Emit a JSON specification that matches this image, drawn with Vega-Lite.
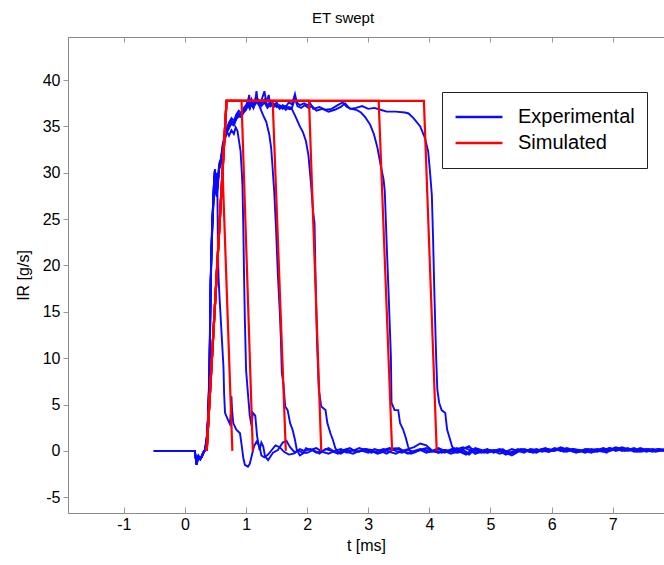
{
"$schema": "https://vega.github.io/schema/vega-lite/v6.json",
"autosize": "none",
"width": 596, "height": 476,
"padding": {"left": 68, "top": 37, "right": 0, "bottom": 52},
"background": "white",
"title": {"text": "ET swept", "fontSize": 15, "font": "Liberation Sans", "fontWeight": "normal", "color": "black", "dx": -23, "offset": 11},
"config": {
  "view": {"stroke": "#8a8a8a", "strokeWidth": 1},
  "axis": {"grid": false, "domainColor": "#8a8a8a", "tickColor": "#9a9a9a", "labelFont": "Liberation Sans", "titleFont": "Liberation Sans", "labelFontSize": 16, "titleFontSize": 16, "titleFontWeight": "normal", "labelColor": "black", "titleColor": "black"}
},
"datasets": {
"exp": [
{"s":"e1","t":-0.51,"v":0},{"s":"e1","t":0.16,"v":0},{"s":"e1","t":0.19,"v":-1.5},{"s":"e1","t":0.21,"v":-0.8},{"s":"e1","t":0.22,"v":-0.6},{"s":"e1","t":0.25,"v":-0.9},{"s":"e1","t":0.27,"v":-0.7},{"s":"e1","t":0.30,"v":-0.2},{"s":"e1","t":0.33,"v":0.1},{"s":"e1","t":0.36,"v":1.5},{"s":"e1","t":0.38,"v":3.7},{"s":"e1","t":0.40,"v":8},{"s":"e1","t":0.41,"v":13},{"s":"e1","t":0.42,"v":18},{"s":"e1","t":0.435,"v":22},{"s":"e1","t":0.45,"v":25},{"s":"e1","t":0.465,"v":27},{"s":"e1","t":0.475,"v":29},{"s":"e1","t":0.485,"v":30.2},{"s":"e1","t":0.50,"v":28.6},{"s":"e1","t":0.51,"v":29.4},{"s":"e1","t":0.52,"v":30},{"s":"e1","t":0.53,"v":28.4},{"s":"e1","t":0.535,"v":25},{"s":"e1","t":0.54,"v":21},{"s":"e1","t":0.55,"v":18.5},{"s":"e1","t":0.57,"v":16},{"s":"e1","t":0.60,"v":12.5},{"s":"e1","t":0.63,"v":9},{"s":"e1","t":0.64,"v":6.2},{"s":"e1","t":0.655,"v":4.1},{"s":"e1","t":0.70,"v":3.4},{"s":"e1","t":0.735,"v":2.9},{"s":"e1","t":0.75,"v":4.2},{"s":"e1","t":0.76,"v":5.9},{"s":"e1","t":0.77,"v":4.4},{"s":"e1","t":0.79,"v":3.0},{"s":"e1","t":0.84,"v":2.3},{"s":"e1","t":0.90,"v":1.9},{"s":"e1","t":0.93,"v":0.5},{"s":"e1","t":0.955,"v":-0.8},{"s":"e1","t":0.98,"v":-1.5},{"s":"e1","t":1.03,"v":-1.7},{"s":"e1","t":1.06,"v":-1.4},{"s":"e1","t":1.10,"v":-0.3},{"s":"e1","t":1.13,"v":0.5},{"s":"e1","t":1.17,"v":1.0},{"s":"e1","t":1.22,"v":0.5},{"s":"e1","t":1.25,"v":-0.5},{"s":"e1","t":1.30,"v":-0.7},{"s":"e1","t":1.36,"v":-0.4},{"s":"e1","t":1.42,"v":0.1},{"s":"e1","t":1.48,"v":0.6},{"s":"e1","t":1.55,"v":0.4},{"s":"e1","t":1.62,"v":-0.1},{"s":"e1","t":1.70,"v":-0.4},{"s":"e1","t":1.78,"v":-0.3},{"s":"e1","t":1.85,"v":0.1},{"s":"e1","t":1.92,"v":-0.2},
{"s":"e1","t":2.0,"v":-0.2},{"s":"e1","t":2.1,"v":0.1},{"s":"e1","t":2.2,"v":-0.3},{"s":"e1","t":2.3,"v":0.2},{"s":"e1","t":2.4,"v":0.0},{"s":"e1","t":2.5,"v":-0.3},{"s":"e1","t":2.6,"v":0.1},{"s":"e1","t":2.7,"v":0.3},{"s":"e1","t":2.8,"v":-0.1},{"s":"e1","t":2.9,"v":0.0},{"s":"e1","t":3.0,"v":-0.2},{"s":"e1","t":3.1,"v":0.2},{"s":"e1","t":3.2,"v":0.0},{"s":"e1","t":3.3,"v":-0.3},{"s":"e1","t":3.4,"v":0.1},{"s":"e1","t":3.5,"v":0.3},{"s":"e1","t":3.6,"v":-0.1},{"s":"e1","t":3.7,"v":-0.3},{"s":"e1","t":3.8,"v":0.0},{"s":"e1","t":3.9,"v":0.2},{"s":"e1","t":4.0,"v":-0.1},{"s":"e1","t":4.1,"v":0.1},{"s":"e1","t":4.2,"v":-0.2},{"s":"e1","t":4.3,"v":0.0},{"s":"e1","t":4.4,"v":0.3},{"s":"e1","t":4.5,"v":-0.1},{"s":"e1","t":4.6,"v":-0.4},{"s":"e1","t":4.7,"v":0.2},{"s":"e1","t":4.8,"v":0.0},{"s":"e1","t":4.9,"v":-0.2},{"s":"e1","t":5.0,"v":0.1},{"s":"e1","t":5.1,"v":-0.1},{"s":"e1","t":5.2,"v":0.2},{"s":"e1","t":5.3,"v":-0.3},{"s":"e1","t":5.4,"v":-0.1},{"s":"e1","t":5.5,"v":0.2},{"s":"e1","t":5.6,"v":0.0},{"s":"e1","t":5.7,"v":-0.2},{"s":"e1","t":5.8,"v":0.1},{"s":"e1","t":5.9,"v":0.3},{"s":"e1","t":6.0,"v":0.0},{"s":"e1","t":6.1,"v":0.2},{"s":"e1","t":6.2,"v":-0.1},{"s":"e1","t":6.3,"v":0.1},{"s":"e1","t":6.4,"v":-0.2},{"s":"e1","t":6.5,"v":0.0},{"s":"e1","t":6.6,"v":0.2},{"s":"e1","t":6.7,"v":-0.1},{"s":"e1","t":6.8,"v":0.1},{"s":"e1","t":6.9,"v":-0.2},{"s":"e1","t":7.0,"v":0.2},{"s":"e1","t":7.1,"v":0.3},{"s":"e1","t":7.2,"v":0.0},{"s":"e1","t":7.3,"v":0.2},{"s":"e1","t":7.4,"v":-0.1},{"s":"e1","t":7.5,"v":0.1},{"s":"e1","t":7.6,"v":0.2},{"s":"e1","t":7.7,"v":-0.1},{"s":"e1","t":7.85,"v":0.1},

{"s":"e2","t":-0.51,"v":0},{"s":"e2","t":0.16,"v":0},{"s":"e2","t":0.19,"v":-1.4},{"s":"e2","t":0.21,"v":-0.7},{"s":"e2","t":0.22,"v":-0.6},{"s":"e2","t":0.25,"v":-0.8},{"s":"e2","t":0.27,"v":-0.6},{"s":"e2","t":0.30,"v":-0.1},{"s":"e2","t":0.33,"v":0.2},{"s":"e2","t":0.36,"v":1.8},{"s":"e2","t":0.38,"v":4.2},{"s":"e2","t":0.40,"v":9},{"s":"e2","t":0.41,"v":14},{"s":"e2","t":0.42,"v":18.5},{"s":"e2","t":0.435,"v":22.5},{"s":"e2","t":0.45,"v":25.5},{"s":"e2","t":0.465,"v":27.2},{"s":"e2","t":0.475,"v":28.8},{"s":"e2","t":0.49,"v":29.8},{"s":"e2","t":0.50,"v":28},{"s":"e2","t":0.52,"v":27.6},{"s":"e2","t":0.54,"v":29},{"s":"e2","t":0.56,"v":30.5},{"s":"e2","t":0.59,"v":31.2},{"s":"e2","t":0.61,"v":32.3},{"s":"e2","t":0.65,"v":33.6},{"s":"e2","t":0.68,"v":34.5},{"s":"e2","t":0.72,"v":34.0},{"s":"e2","t":0.76,"v":34.6},{"s":"e2","t":0.80,"v":34.2},{"s":"e2","t":0.83,"v":34.9},{"s":"e2","t":0.86,"v":34.5},{"s":"e2","t":0.88,"v":33.6},{"s":"e2","t":0.91,"v":32.3},{"s":"e2","t":0.93,"v":30},{"s":"e2","t":0.94,"v":28.7},{"s":"e2","t":0.955,"v":24},{"s":"e2","t":0.965,"v":19.5},{"s":"e2","t":0.98,"v":14.1},{"s":"e2","t":1.0,"v":8.7},{"s":"e2","t":1.03,"v":6.2},{"s":"e2","t":1.06,"v":3.8},{"s":"e2","t":1.09,"v":2.7},{"s":"e2","t":1.11,"v":4.1},{"s":"e2","t":1.15,"v":3.8},{"s":"e2","t":1.18,"v":1.6},{"s":"e2","t":1.22,"v":0.1},{"s":"e2","t":1.25,"v":0.9},{"s":"e2","t":1.28,"v":0.5},{"s":"e2","t":1.31,"v":-0.6},{"s":"e2","t":1.36,"v":-1.0},{"s":"e2","t":1.44,"v":-0.2},{"s":"e2","t":1.52,"v":0.1},{"s":"e2","t":1.6,"v":0.9},{"s":"e2","t":1.66,"v":1.1},{"s":"e2","t":1.72,"v":0.4},{"s":"e2","t":1.8,"v":-0.2},{"s":"e2","t":1.88,"v":0.2},{"s":"e2","t":1.95,"v":0.0},
{"s":"e2","t":2.05,"v":0.2},{"s":"e2","t":2.15,"v":-0.2},{"s":"e2","t":2.25,"v":0.0},{"s":"e2","t":2.35,"v":0.3},{"s":"e2","t":2.45,"v":-0.1},{"s":"e2","t":2.55,"v":-0.3},{"s":"e2","t":2.65,"v":0.1},{"s":"e2","t":2.75,"v":0.0},{"s":"e2","t":2.85,"v":0.3},{"s":"e2","t":2.95,"v":0.1},{"s":"e2","t":3.05,"v":-0.2},{"s":"e2","t":3.15,"v":0.0},{"s":"e2","t":3.25,"v":0.2},{"s":"e2","t":3.35,"v":-0.1},{"s":"e2","t":3.45,"v":-0.3},{"s":"e2","t":3.55,"v":0.0},{"s":"e2","t":3.65,"v":0.2},{"s":"e2","t":3.75,"v":0.4},{"s":"e2","t":3.85,"v":0.8},{"s":"e2","t":3.95,"v":0.6},{"s":"e2","t":4.05,"v":0.0},{"s":"e2","t":4.15,"v":-0.2},{"s":"e2","t":4.25,"v":0.1},{"s":"e2","t":4.35,"v":-0.1},{"s":"e2","t":4.45,"v":0.2},{"s":"e2","t":4.55,"v":0.4},{"s":"e2","t":4.65,"v":0.1},{"s":"e2","t":4.75,"v":-0.3},{"s":"e2","t":4.85,"v":0.0},{"s":"e2","t":4.95,"v":0.2},{"s":"e2","t":5.05,"v":-0.2},{"s":"e2","t":5.15,"v":0.0},{"s":"e2","t":5.25,"v":-0.4},{"s":"e2","t":5.35,"v":-0.1},{"s":"e2","t":5.45,"v":0.2},{"s":"e2","t":5.55,"v":0.0},{"s":"e2","t":5.65,"v":0.1},{"s":"e2","t":5.75,"v":-0.1},{"s":"e2","t":5.85,"v":0.2},{"s":"e2","t":5.95,"v":0.0},{"s":"e2","t":6.05,"v":0.3},{"s":"e2","t":6.15,"v":0.1},{"s":"e2","t":6.25,"v":-0.1},{"s":"e2","t":6.35,"v":0.2},{"s":"e2","t":6.45,"v":0.0},{"s":"e2","t":6.55,"v":-0.2},{"s":"e2","t":6.65,"v":0.1},{"s":"e2","t":6.75,"v":0.2},{"s":"e2","t":6.85,"v":0.0},{"s":"e2","t":6.95,"v":0.3},{"s":"e2","t":7.05,"v":0.1},{"s":"e2","t":7.15,"v":0.4},{"s":"e2","t":7.25,"v":0.2},{"s":"e2","t":7.35,"v":0.0},{"s":"e2","t":7.45,"v":0.2},{"s":"e2","t":7.55,"v":-0.1},{"s":"e2","t":7.65,"v":0.1},{"s":"e2","t":7.75,"v":0.0},{"s":"e2","t":7.85,"v":0.1},

{"s":"e3","t":-0.51,"v":0},{"s":"e3","t":0.16,"v":0},{"s":"e3","t":0.19,"v":-1.5},{"s":"e3","t":0.21,"v":-0.8},{"s":"e3","t":0.22,"v":-0.6},{"s":"e3","t":0.25,"v":-0.9},{"s":"e3","t":0.27,"v":-0.7},{"s":"e3","t":0.30,"v":-0.2},{"s":"e3","t":0.33,"v":0.1},{"s":"e3","t":0.36,"v":1.3},{"s":"e3","t":0.38,"v":3.4},{"s":"e3","t":0.40,"v":7.5},{"s":"e3","t":0.41,"v":12.5},{"s":"e3","t":0.42,"v":17.5},{"s":"e3","t":0.435,"v":21.5},{"s":"e3","t":0.45,"v":24.6},{"s":"e3","t":0.465,"v":26.8},{"s":"e3","t":0.475,"v":29.2},{"s":"e3","t":0.49,"v":30.1},{"s":"e3","t":0.50,"v":28.3},{"s":"e3","t":0.52,"v":27.8},{"s":"e3","t":0.54,"v":29.2},{"s":"e3","t":0.56,"v":30.8},{"s":"e3","t":0.59,"v":31.4},{"s":"e3","t":0.61,"v":32.5},{"s":"e3","t":0.65,"v":33.9},{"s":"e3","t":0.68,"v":34.6},{"s":"e3","t":0.72,"v":35.1},{"s":"e3","t":0.76,"v":35.6},{"s":"e3","t":0.80,"v":35.4},{"s":"e3","t":0.84,"v":36.0},{"s":"e3","t":0.88,"v":36.4},{"s":"e3","t":0.92,"v":36.2},{"s":"e3","t":0.96,"v":36.8},{"s":"e3","t":1.0,"v":37.0},{"s":"e3","t":1.03,"v":37.6},{"s":"e3","t":1.05,"v":38.4},{"s":"e3","t":1.07,"v":37.4},{"s":"e3","t":1.09,"v":37.9},{"s":"e3","t":1.12,"v":37.3},{"s":"e3","t":1.15,"v":37.7},{"s":"e3","t":1.17,"v":38.8},{"s":"e3","t":1.19,"v":37.6},{"s":"e3","t":1.23,"v":37.0},{"s":"e3","t":1.28,"v":36.2},{"s":"e3","t":1.33,"v":35.5},{"s":"e3","t":1.38,"v":34.1},{"s":"e3","t":1.41,"v":32.7},{"s":"e3","t":1.43,"v":30.9},{"s":"e3","t":1.46,"v":28},{"s":"e3","t":1.49,"v":24},{"s":"e3","t":1.52,"v":19},{"s":"e3","t":1.55,"v":15.2},{"s":"e3","t":1.57,"v":12},{"s":"e3","t":1.585,"v":8.4},{"s":"e3","t":1.61,"v":7.3},{"s":"e3","t":1.64,"v":4.8},{"s":"e3","t":1.68,"v":4.4},{"s":"e3","t":1.72,"v":3.0},{"s":"e3","t":1.76,"v":2.3},{"s":"e3","t":1.80,"v":1.2},{"s":"e3","t":1.83,"v":0.1},{"s":"e3","t":1.88,"v":-0.5},{"s":"e3","t":1.93,"v":-0.3},{"s":"e3","t":1.98,"v":0.3},
{"s":"e3","t":2.05,"v":0.1},{"s":"e3","t":2.15,"v":0.3},{"s":"e3","t":2.25,"v":-0.1},{"s":"e3","t":2.35,"v":-0.3},{"s":"e3","t":2.45,"v":0.0},{"s":"e3","t":2.55,"v":0.2},{"s":"e3","t":2.65,"v":-0.1},{"s":"e3","t":2.75,"v":-0.3},{"s":"e3","t":2.85,"v":0.0},{"s":"e3","t":2.95,"v":0.2},{"s":"e3","t":3.05,"v":0.1},{"s":"e3","t":3.15,"v":-0.2},{"s":"e3","t":3.25,"v":0.1},{"s":"e3","t":3.35,"v":0.3},{"s":"e3","t":3.45,"v":0.0},{"s":"e3","t":3.55,"v":-0.2},{"s":"e3","t":3.65,"v":0.1},{"s":"e3","t":3.75,"v":-0.1},{"s":"e3","t":3.85,"v":0.1},{"s":"e3","t":3.95,"v":-0.2},{"s":"e3","t":4.05,"v":0.0},{"s":"e3","t":4.15,"v":0.3},{"s":"e3","t":4.25,"v":0.0},{"s":"e3","t":4.35,"v":-0.3},{"s":"e3","t":4.45,"v":-0.1},{"s":"e3","t":4.55,"v":0.3},{"s":"e3","t":4.65,"v":0.4},{"s":"e3","t":4.75,"v":0.0},{"s":"e3","t":4.85,"v":-0.2},{"s":"e3","t":4.95,"v":0.1},{"s":"e3","t":5.05,"v":0.0},{"s":"e3","t":5.15,"v":-0.3},{"s":"e3","t":5.25,"v":-0.1},{"s":"e3","t":5.35,"v":0.2},{"s":"e3","t":5.45,"v":0.0},{"s":"e3","t":5.55,"v":-0.2},{"s":"e3","t":5.65,"v":0.2},{"s":"e3","t":5.75,"v":0.1},{"s":"e3","t":5.85,"v":-0.1},{"s":"e3","t":5.95,"v":0.2},{"s":"e3","t":6.05,"v":0.0},{"s":"e3","t":6.15,"v":0.3},{"s":"e3","t":6.25,"v":0.2},{"s":"e3","t":6.35,"v":-0.1},{"s":"e3","t":6.45,"v":0.1},{"s":"e3","t":6.55,"v":0.0},{"s":"e3","t":6.65,"v":-0.2},{"s":"e3","t":6.75,"v":0.1},{"s":"e3","t":6.85,"v":0.3},{"s":"e3","t":6.95,"v":0.0},{"s":"e3","t":7.05,"v":0.2},{"s":"e3","t":7.15,"v":0.1},{"s":"e3","t":7.25,"v":0.3},{"s":"e3","t":7.35,"v":-0.1},{"s":"e3","t":7.45,"v":0.0},{"s":"e3","t":7.55,"v":0.2},{"s":"e3","t":7.65,"v":0.0},{"s":"e3","t":7.75,"v":0.2},{"s":"e3","t":7.85,"v":0.0},

{"s":"e4","t":-0.51,"v":0},{"s":"e4","t":0.16,"v":0},{"s":"e4","t":0.19,"v":-1.4},{"s":"e4","t":0.21,"v":-0.8},{"s":"e4","t":0.22,"v":-0.5},{"s":"e4","t":0.25,"v":-0.8},{"s":"e4","t":0.27,"v":-0.7},{"s":"e4","t":0.30,"v":-0.2},{"s":"e4","t":0.33,"v":0.1},{"s":"e4","t":0.36,"v":1.6},{"s":"e4","t":0.38,"v":3.9},{"s":"e4","t":0.40,"v":8.5},{"s":"e4","t":0.41,"v":13.5},{"s":"e4","t":0.42,"v":18.2},{"s":"e4","t":0.435,"v":22.2},{"s":"e4","t":0.45,"v":25.2},{"s":"e4","t":0.465,"v":27.5},{"s":"e4","t":0.475,"v":29.0},{"s":"e4","t":0.49,"v":30.4},{"s":"e4","t":0.50,"v":28.6},{"s":"e4","t":0.52,"v":28.0},{"s":"e4","t":0.54,"v":29.5},{"s":"e4","t":0.56,"v":31.0},{"s":"e4","t":0.59,"v":31.6},{"s":"e4","t":0.61,"v":32.8},{"s":"e4","t":0.65,"v":34.1},{"s":"e4","t":0.68,"v":34.8},{"s":"e4","t":0.72,"v":35.4},{"s":"e4","t":0.76,"v":35.9},{"s":"e4","t":0.80,"v":35.6},{"s":"e4","t":0.84,"v":36.3},{"s":"e4","t":0.88,"v":36.7},{"s":"e4","t":0.92,"v":36.4},{"s":"e4","t":0.96,"v":37.0},{"s":"e4","t":1.0,"v":37.3},{"s":"e4","t":1.03,"v":37.8},{"s":"e4","t":1.06,"v":37.2},{"s":"e4","t":1.09,"v":37.7},{"s":"e4","t":1.12,"v":37.0},{"s":"e4","t":1.15,"v":37.9},{"s":"e4","t":1.2,"v":37.4},{"s":"e4","t":1.25,"v":37.8},{"s":"e4","t":1.30,"v":38.8},{"s":"e4","t":1.33,"v":37.6},{"s":"e4","t":1.37,"v":38.4},{"s":"e4","t":1.40,"v":37.2},{"s":"e4","t":1.45,"v":37.5},{"s":"e4","t":1.50,"v":37.1},{"s":"e4","t":1.55,"v":37.3},{"s":"e4","t":1.60,"v":36.9},{"s":"e4","t":1.65,"v":37.2},{"s":"e4","t":1.70,"v":36.9},{"s":"e4","t":1.74,"v":37.0},{"s":"e4","t":1.77,"v":36.6},{"s":"e4","t":1.82,"v":35.9},{"s":"e4","t":1.88,"v":35.0},{"s":"e4","t":1.93,"v":34.4},{"s":"e4","t":1.98,"v":33.4},{"s":"e4","t":2.02,"v":31.9},{"s":"e4","t":2.06,"v":29},{"s":"e4","t":2.10,"v":25.6},{"s":"e4","t":2.12,"v":24.6},{"s":"e4","t":2.135,"v":19.2},{"s":"e4","t":2.16,"v":12},{"s":"e4","t":2.19,"v":6.6},{"s":"e4","t":2.23,"v":4.8},{"s":"e4","t":2.30,"v":4.4},{"s":"e4","t":2.33,"v":3.0},{"s":"e4","t":2.38,"v":1.9},{"s":"e4","t":2.42,"v":1.2},{"s":"e4","t":2.46,"v":0.3},{"s":"e4","t":2.51,"v":-0.2},{"s":"e4","t":2.56,"v":0.1},
{"s":"e4","t":2.65,"v":-0.2},{"s":"e4","t":2.75,"v":0.1},{"s":"e4","t":2.85,"v":-0.1},{"s":"e4","t":2.95,"v":0.2},{"s":"e4","t":3.05,"v":0.0},{"s":"e4","t":3.15,"v":-0.3},{"s":"e4","t":3.25,"v":-0.1},{"s":"e4","t":3.35,"v":0.2},{"s":"e4","t":3.45,"v":0.3},{"s":"e4","t":3.55,"v":0.0},{"s":"e4","t":3.65,"v":-0.3},{"s":"e4","t":3.75,"v":0.0},{"s":"e4","t":3.85,"v":0.2},{"s":"e4","t":3.95,"v":0.0},{"s":"e4","t":4.05,"v":-0.1},{"s":"e4","t":4.15,"v":0.2},{"s":"e4","t":4.25,"v":-0.2},{"s":"e4","t":4.35,"v":0.1},{"s":"e4","t":4.45,"v":0.3},{"s":"e4","t":4.55,"v":-0.1},{"s":"e4","t":4.65,"v":-0.4},{"s":"e4","t":4.75,"v":0.2},{"s":"e4","t":4.85,"v":0.0},{"s":"e4","t":4.95,"v":-0.2},{"s":"e4","t":5.05,"v":0.1},{"s":"e4","t":5.15,"v":0.0},{"s":"e4","t":5.25,"v":-0.2},{"s":"e4","t":5.35,"v":-0.5},{"s":"e4","t":5.45,"v":-0.1},{"s":"e4","t":5.55,"v":0.1},{"s":"e4","t":5.65,"v":-0.1},{"s":"e4","t":5.75,"v":0.0},{"s":"e4","t":5.85,"v":0.2},{"s":"e4","t":5.95,"v":-0.1},{"s":"e4","t":6.05,"v":0.1},{"s":"e4","t":6.15,"v":0.4},{"s":"e4","t":6.25,"v":0.1},{"s":"e4","t":6.35,"v":0.0},{"s":"e4","t":6.45,"v":-0.1},{"s":"e4","t":6.55,"v":0.1},{"s":"e4","t":6.65,"v":0.0},{"s":"e4","t":6.75,"v":-0.1},{"s":"e4","t":6.85,"v":0.2},{"s":"e4","t":6.95,"v":0.1},{"s":"e4","t":7.05,"v":0.4},{"s":"e4","t":7.15,"v":0.2},{"s":"e4","t":7.25,"v":0.0},{"s":"e4","t":7.35,"v":0.1},{"s":"e4","t":7.45,"v":-0.1},{"s":"e4","t":7.55,"v":0.0},{"s":"e4","t":7.65,"v":0.2},{"s":"e4","t":7.75,"v":0.1},{"s":"e4","t":7.85,"v":0.0},

{"s":"e5","t":-0.51,"v":0},{"s":"e5","t":0.16,"v":0},{"s":"e5","t":0.19,"v":-1.5},{"s":"e5","t":0.21,"v":-0.9},{"s":"e5","t":0.22,"v":-0.6},{"s":"e5","t":0.25,"v":-0.9},{"s":"e5","t":0.27,"v":-0.6},{"s":"e5","t":0.30,"v":-0.2},{"s":"e5","t":0.33,"v":0.1},{"s":"e5","t":0.36,"v":1.4},{"s":"e5","t":0.38,"v":3.6},{"s":"e5","t":0.40,"v":7.8},{"s":"e5","t":0.41,"v":12.8},{"s":"e5","t":0.42,"v":17.8},{"s":"e5","t":0.435,"v":21.8},{"s":"e5","t":0.45,"v":24.8},{"s":"e5","t":0.465,"v":26.6},{"s":"e5","t":0.475,"v":28.6},{"s":"e5","t":0.49,"v":29.6},{"s":"e5","t":0.50,"v":28.0},{"s":"e5","t":0.52,"v":27.4},{"s":"e5","t":0.54,"v":28.8},{"s":"e5","t":0.56,"v":30.4},{"s":"e5","t":0.59,"v":31.0},{"s":"e5","t":0.61,"v":32.1},{"s":"e5","t":0.65,"v":33.5},{"s":"e5","t":0.68,"v":34.3},{"s":"e5","t":0.72,"v":34.8},{"s":"e5","t":0.76,"v":35.3},{"s":"e5","t":0.80,"v":35.1},{"s":"e5","t":0.84,"v":35.8},{"s":"e5","t":0.88,"v":36.1},{"s":"e5","t":0.92,"v":36.0},{"s":"e5","t":0.96,"v":36.5},{"s":"e5","t":1.0,"v":36.8},{"s":"e5","t":1.03,"v":37.3},{"s":"e5","t":1.06,"v":36.9},{"s":"e5","t":1.09,"v":37.5},{"s":"e5","t":1.12,"v":37.0},{"s":"e5","t":1.15,"v":37.6},{"s":"e5","t":1.2,"v":37.9},{"s":"e5","t":1.25,"v":37.5},{"s":"e5","t":1.30,"v":37.9},{"s":"e5","t":1.35,"v":37.3},{"s":"e5","t":1.40,"v":37.7},{"s":"e5","t":1.45,"v":37.2},{"s":"e5","t":1.50,"v":37.6},{"s":"e5","t":1.55,"v":37.0},{"s":"e5","t":1.60,"v":37.3},{"s":"e5","t":1.65,"v":37.1},{"s":"e5","t":1.70,"v":37.6},{"s":"e5","t":1.75,"v":37.4},{"s":"e5","t":1.80,"v":38.5},{"s":"e5","t":1.83,"v":37.6},{"s":"e5","t":1.88,"v":37.3},{"s":"e5","t":1.95,"v":37.5},{"s":"e5","t":2.0,"v":37.3},{"s":"e5","t":2.05,"v":37.5},{"s":"e5","t":2.1,"v":36.9},{"s":"e5","t":2.2,"v":37.1},{"s":"e5","t":2.3,"v":36.8},{"s":"e5","t":2.4,"v":36.9},{"s":"e5","t":2.5,"v":37.3},{"s":"e5","t":2.58,"v":37.6},{"s":"e5","t":2.65,"v":37.1},{"s":"e5","t":2.72,"v":36.9},{"s":"e5","t":2.8,"v":36.8},{"s":"e5","t":2.88,"v":36.5},{"s":"e5","t":2.95,"v":36.0},{"s":"e5","t":3.03,"v":35.2},{"s":"e5","t":3.09,"v":34.2},{"s":"e5","t":3.15,"v":32.7},{"s":"e5","t":3.20,"v":30.9},{"s":"e5","t":3.25,"v":29.3},{"s":"e5","t":3.27,"v":28},{"s":"e5","t":3.30,"v":22.5},{"s":"e5","t":3.33,"v":17.4},{"s":"e5","t":3.37,"v":10.2},{"s":"e5","t":3.38,"v":5.2},{"s":"e5","t":3.43,"v":4.4},{"s":"e5","t":3.49,"v":4.4},{"s":"e5","t":3.52,"v":3.0},{"s":"e5","t":3.57,"v":2.3},{"s":"e5","t":3.61,"v":1.5},{"s":"e5","t":3.65,"v":0.5},{"s":"e5","t":3.68,"v":0.0},
{"s":"e5","t":3.75,"v":-0.2},{"s":"e5","t":3.85,"v":0.1},{"s":"e5","t":3.95,"v":0.3},{"s":"e5","t":4.05,"v":0.0},{"s":"e5","t":4.15,"v":-0.2},{"s":"e5","t":4.25,"v":0.1},{"s":"e5","t":4.35,"v":0.0},{"s":"e5","t":4.45,"v":-0.2},{"s":"e5","t":4.55,"v":0.2},{"s":"e5","t":4.65,"v":0.5},{"s":"e5","t":4.75,"v":-0.3},{"s":"e5","t":4.85,"v":-0.1},{"s":"e5","t":4.95,"v":0.1},{"s":"e5","t":5.05,"v":-0.1},{"s":"e5","t":5.15,"v":0.1},{"s":"e5","t":5.25,"v":0.0},{"s":"e5","t":5.35,"v":-0.3},{"s":"e5","t":5.45,"v":0.0},{"s":"e5","t":5.55,"v":0.2},{"s":"e5","t":5.65,"v":0.0},{"s":"e5","t":5.75,"v":-0.2},{"s":"e5","t":5.85,"v":0.1},{"s":"e5","t":5.95,"v":0.0},{"s":"e5","t":6.05,"v":0.2},{"s":"e5","t":6.15,"v":0.0},{"s":"e5","t":6.25,"v":0.3},{"s":"e5","t":6.35,"v":0.1},{"s":"e5","t":6.45,"v":-0.1},{"s":"e5","t":6.55,"v":0.2},{"s":"e5","t":6.65,"v":0.1},{"s":"e5","t":6.75,"v":0.0},{"s":"e5","t":6.85,"v":0.1},{"s":"e5","t":6.95,"v":0.3},{"s":"e5","t":7.05,"v":0.0},{"s":"e5","t":7.15,"v":0.2},{"s":"e5","t":7.25,"v":0.1},{"s":"e5","t":7.35,"v":0.3},{"s":"e5","t":7.45,"v":0.0},{"s":"e5","t":7.55,"v":0.1},{"s":"e5","t":7.65,"v":-0.1},{"s":"e5","t":7.75,"v":0.1},{"s":"e5","t":7.85,"v":0.2},

{"s":"e6","t":-0.51,"v":0},{"s":"e6","t":0.16,"v":0},{"s":"e6","t":0.19,"v":-1.5},{"s":"e6","t":0.21,"v":-0.8},{"s":"e6","t":0.22,"v":-0.7},{"s":"e6","t":0.25,"v":-0.9},{"s":"e6","t":0.27,"v":-0.7},{"s":"e6","t":0.30,"v":-0.3},{"s":"e6","t":0.33,"v":0.1},{"s":"e6","t":0.36,"v":1.5},{"s":"e6","t":0.38,"v":3.8},{"s":"e6","t":0.40,"v":8.2},{"s":"e6","t":0.41,"v":13.2},{"s":"e6","t":0.42,"v":18.0},{"s":"e6","t":0.435,"v":22.0},{"s":"e6","t":0.45,"v":25.0},{"s":"e6","t":0.465,"v":27.0},{"s":"e6","t":0.475,"v":29.0},{"s":"e6","t":0.49,"v":30.0},{"s":"e6","t":0.50,"v":28.4},{"s":"e6","t":0.52,"v":27.9},{"s":"e6","t":0.54,"v":29.3},{"s":"e6","t":0.56,"v":30.7},{"s":"e6","t":0.59,"v":31.3},{"s":"e6","t":0.61,"v":32.4},{"s":"e6","t":0.65,"v":33.8},{"s":"e6","t":0.68,"v":34.5},{"s":"e6","t":0.72,"v":35.0},{"s":"e6","t":0.76,"v":35.5},{"s":"e6","t":0.80,"v":35.3},{"s":"e6","t":0.84,"v":35.9},{"s":"e6","t":0.88,"v":36.3},{"s":"e6","t":0.92,"v":36.1},{"s":"e6","t":0.96,"v":36.7},{"s":"e6","t":1.0,"v":36.9},{"s":"e6","t":1.03,"v":37.4},{"s":"e6","t":1.06,"v":37.0},{"s":"e6","t":1.09,"v":37.6},{"s":"e6","t":1.12,"v":37.1},{"s":"e6","t":1.15,"v":37.4},{"s":"e6","t":1.2,"v":37.8},{"s":"e6","t":1.25,"v":37.2},{"s":"e6","t":1.30,"v":37.6},{"s":"e6","t":1.35,"v":37.0},{"s":"e6","t":1.40,"v":37.4},{"s":"e6","t":1.45,"v":37.1},{"s":"e6","t":1.50,"v":37.3},{"s":"e6","t":1.55,"v":36.9},{"s":"e6","t":1.60,"v":37.2},{"s":"e6","t":1.65,"v":36.8},{"s":"e6","t":1.70,"v":37.1},{"s":"e6","t":1.75,"v":37.0},{"s":"e6","t":1.80,"v":38.0},{"s":"e6","t":1.84,"v":37.2},{"s":"e6","t":1.9,"v":37.0},{"s":"e6","t":1.96,"v":37.3},{"s":"e6","t":2.02,"v":37.0},{"s":"e6","t":2.08,"v":37.2},{"s":"e6","t":2.15,"v":36.7},{"s":"e6","t":2.25,"v":36.9},{"s":"e6","t":2.35,"v":36.6},{"s":"e6","t":2.45,"v":36.8},{"s":"e6","t":2.55,"v":37.1},{"s":"e6","t":2.62,"v":37.5},{"s":"e6","t":2.7,"v":36.9},{"s":"e6","t":2.8,"v":37.0},{"s":"e6","t":2.9,"v":37.2},{"s":"e6","t":3.0,"v":36.9},{"s":"e6","t":3.1,"v":37.0},{"s":"e6","t":3.2,"v":36.8},{"s":"e6","t":3.3,"v":36.6},{"s":"e6","t":3.45,"v":36.6},{"s":"e6","t":3.6,"v":36.5},{"s":"e6","t":3.66,"v":36.4},{"s":"e6","t":3.74,"v":35.9},{"s":"e6","t":3.85,"v":35.0},{"s":"e6","t":3.93,"v":33.7},{"s":"e6","t":3.98,"v":32.3},{"s":"e6","t":4.01,"v":30.1},{"s":"e6","t":4.04,"v":27.6},{"s":"e6","t":4.06,"v":23},{"s":"e6","t":4.08,"v":17.4},{"s":"e6","t":4.11,"v":10.2},{"s":"e6","t":4.13,"v":6.6},{"s":"e6","t":4.16,"v":5.2},{"s":"e6","t":4.20,"v":4.4},{"s":"e6","t":4.26,"v":4.1},{"s":"e6","t":4.29,"v":2.3},{"s":"e6","t":4.34,"v":1.2},{"s":"e6","t":4.37,"v":0.5},{"s":"e6","t":4.42,"v":0.0},{"s":"e6","t":4.47,"v":-0.2},
{"s":"e6","t":4.55,"v":0.1},{"s":"e6","t":4.65,"v":-0.3},{"s":"e6","t":4.75,"v":0.3},{"s":"e6","t":4.85,"v":0.1},{"s":"e6","t":4.95,"v":-0.2},{"s":"e6","t":5.05,"v":0.0},{"s":"e6","t":5.15,"v":0.2},{"s":"e6","t":5.25,"v":-0.1},{"s":"e6","t":5.35,"v":-0.2},{"s":"e6","t":5.45,"v":0.1},{"s":"e6","t":5.55,"v":0.0},{"s":"e6","t":5.65,"v":-0.1},{"s":"e6","t":5.75,"v":0.2},{"s":"e6","t":5.85,"v":0.0},{"s":"e6","t":5.95,"v":-0.1},{"s":"e6","t":6.05,"v":0.1},{"s":"e6","t":6.15,"v":0.2},{"s":"e6","t":6.25,"v":0.0},{"s":"e6","t":6.35,"v":0.2},{"s":"e6","t":6.45,"v":0.1},{"s":"e6","t":6.55,"v":-0.1},{"s":"e6","t":6.65,"v":0.2},{"s":"e6","t":6.75,"v":0.0},{"s":"e6","t":6.85,"v":-0.1},{"s":"e6","t":6.95,"v":0.1},{"s":"e6","t":7.05,"v":0.3},{"s":"e6","t":7.15,"v":0.0},{"s":"e6","t":7.25,"v":0.2},{"s":"e6","t":7.35,"v":0.0},{"s":"e6","t":7.45,"v":0.3},{"s":"e6","t":7.55,"v":0.1},{"s":"e6","t":7.65,"v":0.0},{"s":"e6","t":7.75,"v":0.2},{"s":"e6","t":7.85,"v":0.1}
],
"sim": [
{"s":"s1","t":0.355,"v":0},{"s":"s1","t":0.615,"v":30.2},{"s":"s1","t":0.775,"v":0},
{"s":"s2","t":0.355,"v":0},{"s":"s2","t":0.68,"v":37.75},{"s":"s2","t":0.925,"v":37.75},{"s":"s2","t":1.11,"v":0},
{"s":"s3","t":0.355,"v":0},{"s":"s3","t":0.68,"v":37.75},{"s":"s3","t":1.435,"v":37.75},{"s":"s3","t":1.65,"v":0},
{"s":"s4","t":0.355,"v":0},{"s":"s4","t":0.68,"v":37.75},{"s":"s4","t":2.03,"v":37.75},{"s":"s4","t":2.23,"v":0},
{"s":"s5","t":0.355,"v":0},{"s":"s5","t":0.68,"v":37.75},{"s":"s5","t":3.17,"v":37.75},{"s":"s5","t":3.39,"v":0},
{"s":"s6","t":0.355,"v":0},{"s":"s6","t":0.68,"v":37.75},{"s":"s6","t":3.91,"v":37.75},{"s":"s6","t":4.12,"v":0}
]
},
"resolve": {"axis": {"x": "independent"}},
"layer": [
{
  "data": {"name": "exp"},
  "mark": {"type": "line", "strokeWidth": 1.9, "clip": true},
  "encoding": {
    "x": {"field": "t", "type": "quantitative", "scale": {"domain": [-1.915, 7.84], "nice": false, "zero": false},
          "axis": {"orient": "bottom", "title": "t [ms]", "values": [-1,0,1,2,3,4,5,6,7], "labelExpr": "datum.value < 0 ? '-' + abs(datum.value) : '' + datum.value", "tickSize": -6, "labelPadding": 9, "titlePadding": 5, "labelFlush": false, "labelOverlap": false}},
    "y": {"field": "v", "type": "quantitative", "scale": {"domain": [-6.7, 44.65], "nice": false, "zero": false},
          "axis": {"title": "IR [g/s]", "values": [-5,0,5,10,15,20,25,30,35,40], "labelExpr": "datum.value < 0 ? '-' + abs(datum.value) : '' + datum.value", "tickSize": 5, "labelPadding": 3, "titlePadding": 11, "labelFlush": false, "labelOverlap": false}},
    "detail": {"field": "s"},
    "color": {"datum": "Experimental", "type": "nominal",
      "scale": {"domain": ["Experimental", "Simulated"], "range": ["#0a0aff", "#ff0000"]},
      "legend": {"orient": "none", "legendX": 374, "legendY": 55, "title": null, "symbolType": "stroke", "symbolSize": 2200, "symbolStrokeWidth": 2.5, "labelFontSize": 20, "labelFont": "Liberation Sans", "labelColor": "black", "clipHeight": 26, "rowPadding": 0, "padding": 12, "strokeColor": "#222222", "fillColor": "white", "labelOffset": 14}}
  }
},
{
  "data": {"name": "sim"},
  "mark": {"type": "line", "strokeWidth": 2.2, "clip": true},
  "encoding": {
    "x": {"field": "t", "type": "quantitative",
          "axis": {"orient": "top", "title": null, "labels": false, "domain": false, "values": [-1,0,1,2,3,4,5,6,7], "tickSize": -5}},
    "y": {"field": "v", "type": "quantitative"},
    "detail": {"field": "s"},
    "color": {"datum": "Simulated", "type": "nominal"}
  }
}
]
}
